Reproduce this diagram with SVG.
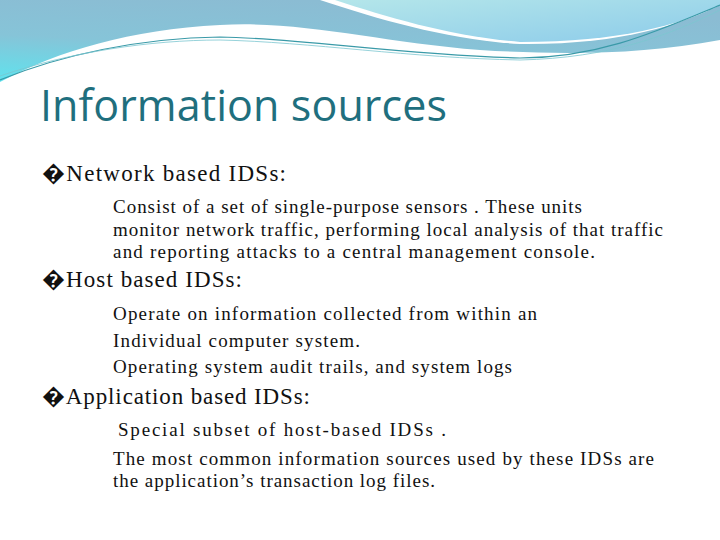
<svg xmlns="http://www.w3.org/2000/svg" width="720" height="540" viewBox="0 0 720 540">
<defs>
<linearGradient id="g1" x1="0" y1="1" x2="0.4" y2="0"><stop offset="0" stop-color="#5fe3ee"/><stop offset="0.5" stop-color="#86c4d8"/><stop offset="1" stop-color="#8bbcd3"/></linearGradient>
<linearGradient id="g2" x1="0" y1="0" x2="1" y2="1"><stop offset="0" stop-color="#b4e6ea"/><stop offset="1" stop-color="#8ccbea"/></linearGradient>
<style>.h{font-family:"Liberation Serif",serif;font-size:23px;fill:#111}.b{font-family:"Liberation Serif",serif;font-size:19px;fill:#111}</style>
</defs>
<rect width="720" height="540" fill="#fff"/>
<g id="header">
<path d="M0 0 H720 V40 C640 55 560 55 480 50 C380 42 300 20 220 25 C130 30 60 50 0 82 Z" fill="url(#g1)"/>
<path d="M320 0 H720 V5 C680 25 620 45 520 44 C450 40 380 20 320 0 Z" fill="#fff"/>
<path d="M335 0 H720 V5 C680 25 620 42 520 42 C450 36 390 18 335 0 Z" fill="url(#g2)"/>
<path d="M0 80 C60 55 140 38 220 37 C300 38 400 55 520 58 C600 58 660 30 720 5" fill="none" stroke="#3a9aa8" stroke-width="1.2"/>
<path d="M0 76 C70 52 150 40 220 40 C310 42 410 58 520 60 C610 58 670 35 720 10" fill="none" stroke="#7cc7d0" stroke-width="0.8"/>
</g>
<text x="40" y="121" font-family="'Open Sans','DejaVu Sans',sans-serif" font-size="43" fill="#1f6f7e" textLength="407">Information sources</text>
<g id="content">
<text class="h" x="42" y="181" textLength="244">�Network based  IDSs:</text>
<text class="b" x="113" y="213" textLength="469">Consist of a set of single-purpose sensors . These units</text>
<text class="b" x="113" y="236" textLength="550">monitor network traffic, performing local analysis of that traffic</text>
<text class="b" x="113" y="258" textLength="482">and reporting attacks to a central management console.</text>
<text class="h" x="42" y="287" textLength="200">�Host based IDSs:</text>
<text class="b" x="113" y="320" textLength="424">Operate on information collected from within an</text>
<text class="b" x="113" y="347" textLength="247">Individual computer system.</text>
<text class="b" x="113" y="373" textLength="399">Operating system audit trails, and system logs</text>
<text class="h" x="42" y="404" textLength="268">�Application based IDSs:</text>
<text class="b" x="118" y="436" textLength="328">Special subset of host-based IDSs .</text>
<text class="b" x="113" y="465" textLength="541">The most common information sources used by these IDSs are</text>
<text class="b" x="113" y="487" textLength="322">the application’s transaction log files.</text>
</g>
</svg>
